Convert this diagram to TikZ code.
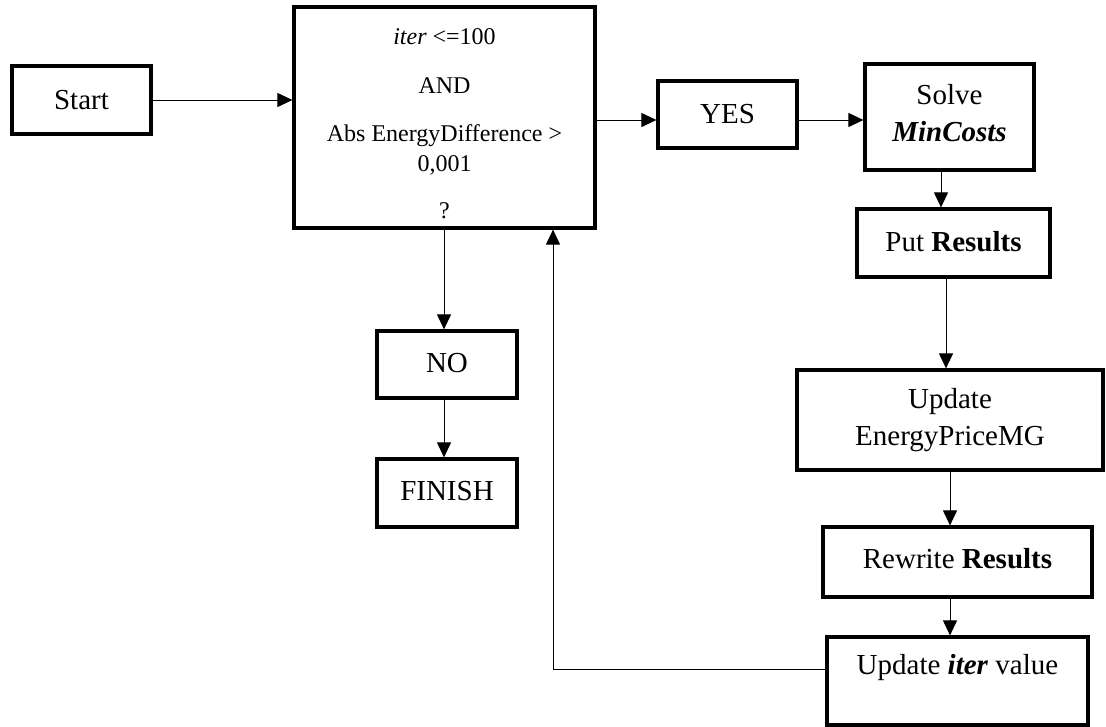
\documentclass[tikz,border=0pt]{standalone}
\usepackage{fontspec}
\setmainfont{Liberation Serif}
\usetikzlibrary{arrows.meta}
\begin{document}
\begin{tikzpicture}[x=1pt,y=-1pt,
  box/.style={draw, line width=3.2pt, rectangle, inner sep=0pt, align=center,
    font=\fontsize{29}{37}\selectfont},
  arr/.style={line width=1pt, -{Triangle[length=15pt,width=14pt]}},
  ln/.style={line width=1pt}]
\useasboundingbox (0,0) rectangle (1106,726);
\node[box, minimum width=139pt, minimum height=68pt] (start) at (81.5,100) {Start};
\node[box, minimum width=301pt, minimum height=221pt, font=\fontsize{24}{30}\selectfont] (cond) at (444.5,117.5)
  {\rule{0pt}{28pt}\textit{iter} <=100\\[19pt] AND\\[18pt] Abs EnergyDifference >\\ 0,001\\[17pt] ?};
\node[box, minimum width=139pt, minimum height=67pt] (yes) at (727.5,114.5) {YES};
\node[box, minimum width=169pt, minimum height=106pt, text depth=8pt] (solve) at (949.5,117) {Solve\\\textbf{\textit{MinCosts}}};
\node[box, minimum width=193pt, minimum height=68pt, text depth=4pt] (put) at (953.5,243) {Put \textbf{Results}};
\node[box, minimum width=306pt, minimum height=100pt] (upd) at (950,420) {Update\\EnergyPriceMG};
\node[box, minimum width=269pt, minimum height=70pt, text depth=8pt] (rew) at (957.5,562) {Rewrite \textbf{Results}};
\node[box, minimum width=261pt, minimum height=88pt, text depth=34pt] (iter) at (957.5,681) {Update \textbf{\textit{iter}} value};
\node[box, minimum width=140pt, minimum height=67pt, text depth=3pt] (no) at (447,364.5) {NO};
\node[box, minimum width=140pt, minimum height=68pt, text depth=4pt] (fin) at (447,493) {FINISH};

\draw[arr] (start.east) -- (start.east -| cond.west);
\draw[arr] (cond.east |- 0,120) -- (yes.west |- 0,120);
\draw[arr] (yes.east |- 0,120) -- (solve.west |- 0,120);
\draw[arr] (solve.south -| 941,0) -- (put.north -| 941,0);
\draw[arr] (put.south -| 946,0) -- (upd.north -| 946,0);
\draw[arr] (upd.south -| 950,0) -- (rew.north -| 950,0);
\draw[arr] (rew.south -| 950,0) -- (iter.north -| 950,0);
\draw[arr] (cond.south -| 444,0) -- (no.north -| 444,0);
\draw[arr] (no.south -| 444,0) -- (fin.north -| 444,0);
\coordinate (bend) at (553,669);
\draw[arr] (iter.west |- bend) -- (bend) -- (cond.south -| bend);
\end{tikzpicture}
\end{document}
